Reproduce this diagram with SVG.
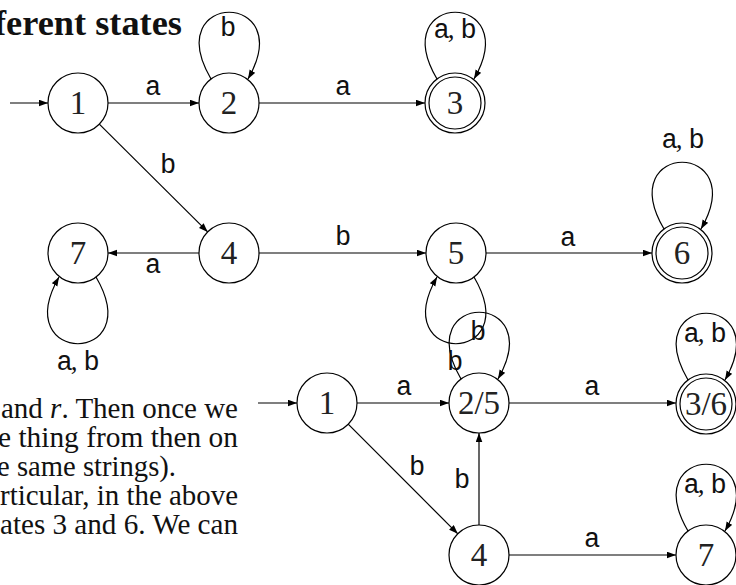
<svg xmlns="http://www.w3.org/2000/svg" width="736" height="585" viewBox="0 0 736 585">
<style>
.st{fill:#fff;stroke:#000;stroke-width:1.2}
.in{fill:none;stroke:#000;stroke-width:1.2}
.num{font-family:"Liberation Serif","DejaVu Serif",serif;font-size:33px;fill:#222;text-anchor:middle}
.lbl{font-family:"Liberation Mono","DejaVu Sans Mono",monospace;font-size:27px;fill:#111;text-anchor:middle}
.cm{font-family:"Liberation Serif","DejaVu Serif",serif}
.e{fill:none;stroke:#000;stroke-width:1.2;marker-end:url(#arr)}
.para{font-family:"Liberation Serif","DejaVu Serif",serif;font-size:29px;fill:#111}
.title{font-family:"Liberation Serif","DejaVu Serif",serif;font-size:35px;font-weight:bold;fill:#111}
</style>
<defs>
<marker id="arr" markerWidth="10" markerHeight="8" refX="9" refY="3.5" orient="auto" markerUnits="userSpaceOnUse">
<path d="M0,0.2 L9,3.5 L0,6.8 z" fill="#000"/>
</marker>
</defs>
<rect width="736" height="585" fill="#fff"/>

<text class="title" x="-6" y="35" textLength="188" lengthAdjust="spacingAndGlyphs">ferent states</text>

<g id="paragraph">
<text class="para" x="1" y="418" textLength="237" lengthAdjust="spacingAndGlyphs">and <tspan font-style="italic">r</tspan>. Then once we</text>
<text class="para" x="-2" y="447" textLength="240" lengthAdjust="spacingAndGlyphs">e thing from then on</text>
<text class="para" x="-3" y="476" textLength="179" lengthAdjust="spacingAndGlyphs">e same strings).</text>
<text class="para" x="0" y="505" textLength="238" lengthAdjust="spacingAndGlyphs">rticular, in the above</text>
<text class="para" x="0" y="534" textLength="238" lengthAdjust="spacingAndGlyphs">ates 3 and 6. We can</text>
</g>

<g id="connectors">
<path class="e" d="M10,103 L48,103"/>
<path class="e" d="M108,103 L199,103"/>
<path class="e" d="M259,103 L425,103"/>
<path class="e" d="M99.3,124.1 L207.7,231.9"/>
<path class="e" d="M199,253 L108,253"/>
<path class="e" d="M259,253 L426,253"/>
<path class="e" d="M486,253 L652,253"/>
<path class="e" d="M211,79 C159,-10 299,-10 248,79"/>
<path class="e" d="M437,79 C385,-10 525,-10 474,79"/>
<path class="e" d="M664,229 C612,140 752,140 701,229"/>
<path class="e" d="M96,277 C148,366 8,366 59,277"/>
<path class="e" d="M474,277 C526,366 386,366 437,277"/>
<path class="e" d="M258,403 L297,403"/>
<path class="e" d="M357,403 L449,403"/>
<path class="e" d="M509,403 L676,403"/>
<path class="e" d="M348.2,424.2 L457.8,533.8"/>
<path class="e" d="M479,525 L479,433"/>
<path class="e" d="M509,555 L676,555"/>
<path class="e" d="M461,379 C409,290 549,290 498,379"/>
<path class="e" d="M688,380 C636,291 776,291 725,380"/>
<path class="e" d="M688,531 C636,442 776,442 725,531"/>
</g>

<g id="edge-labels">
<text class="lbl" x="153" y="95">a</text>
<text class="lbl" x="228" y="36">b</text>
<text class="lbl" x="343" y="95">a</text>
<text class="lbl" x="455" y="38">a<tspan class="cm" dx="-2">,</tspan><tspan dx="6">b</tspan></text>
<text class="lbl" x="168" y="173">b</text>
<text class="lbl" x="153" y="273">a</text>
<text class="lbl" x="78" y="370">a<tspan class="cm" dx="-2">,</tspan><tspan dx="6">b</tspan></text>
<text class="lbl" x="343" y="245">b</text>
<text class="lbl" x="568" y="246">a</text>
<text class="lbl" x="683" y="148">a<tspan class="cm" dx="-2">,</tspan><tspan dx="6">b</tspan></text>
<text class="lbl" x="455" y="370">b</text>
<text class="lbl" x="404" y="395">a</text>
<text class="lbl" x="478" y="340">b</text>
<text class="lbl" x="592" y="395">a</text>
<text class="lbl" x="705" y="342">a<tspan class="cm" dx="-2">,</tspan><tspan dx="6">b</tspan></text>
<text class="lbl" x="417" y="475">b</text>
<text class="lbl" x="462" y="488">b</text>
<text class="lbl" x="592" y="547">a</text>
<text class="lbl" x="705" y="493">a<tspan class="cm" dx="-2">,</tspan><tspan dx="6">b</tspan></text>
</g>

<g id="n1"><circle class="st" cx="78" cy="103" r="30"/><text class="num" x="78" y="114">1</text></g>
<g id="n2"><circle class="st" cx="229" cy="103" r="30"/><text class="num" x="229" y="114">2</text></g>
<g id="n3"><circle class="st" cx="455" cy="103" r="30"/><circle class="in" cx="455" cy="103" r="26"/><text class="num" x="455" y="114">3</text></g>
<g id="n4"><circle class="st" cx="229" cy="253" r="30"/><text class="num" x="229" y="264">4</text></g>
<g id="n5"><circle class="st" cx="456" cy="253" r="30"/><text class="num" x="456" y="264">5</text></g>
<g id="n6"><circle class="st" cx="682" cy="253" r="30"/><circle class="in" cx="682" cy="253" r="26"/><text class="num" x="682" y="264">6</text></g>
<g id="n7"><circle class="st" cx="78" cy="253" r="30"/><text class="num" x="78" y="264">7</text></g>

<g id="m1"><circle class="st" cx="327" cy="403" r="30"/><text class="num" x="327" y="414">1</text></g>
<g id="m25"><circle class="st" cx="479" cy="403" r="30" fill-opacity="0"/><text class="num" x="479" y="414">2/5</text></g>
<g id="m36"><circle class="st" cx="706" cy="404" r="30"/><circle class="in" cx="706" cy="404" r="26"/><text class="num" x="706" y="415">3/6</text></g>
<g id="m4"><circle class="st" cx="479" cy="555" r="30"/><text class="num" x="479" y="566">4</text></g>
<g id="m7"><circle class="st" cx="706" cy="555" r="30"/><text class="num" x="706" y="566">7</text></g>
</svg>
